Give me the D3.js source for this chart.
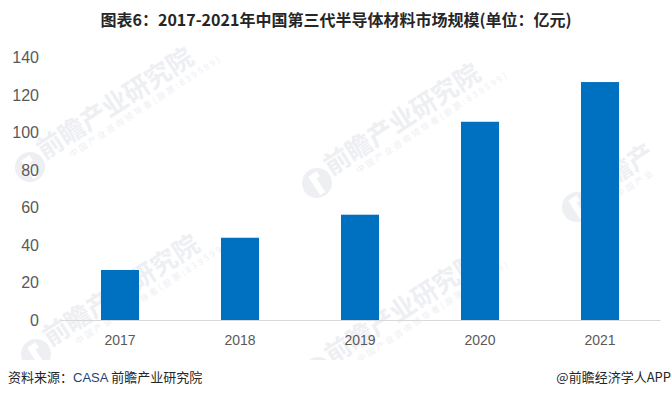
<!DOCTYPE html>
<html>
<head>
<meta charset="utf-8">
<script src="https://cdn.jsdelivr.net/npm/d3@7"></script>
<style>
  html, body { margin: 0; padding: 0; background: #fff; }
  svg { display: block; }
</style>
</head>
<body>
<svg width="672" height="397"></svg>
<script>
// data
var years = ['2017', '2018', '2019', '2020', '2021']
var marketSize = [26.7, 43.9, 56.2, 105.8, 127.0]
var yTicks = [0, 20, 40, 60, 80, 100, 120, 140]

var title = '图表6：2017-2021年中国第三代半导体材料市场规模(单位：亿元)'
// faint watermarks: logo centre, main text, sub text (the last one runs off the right edge)
var wmSpots = [[30, 167], [36, 354], [317, 183], [318, 372], [577, 207]]
var wmMain = ['前瞻产业研究院', '前瞻产业研究院', '前瞻产业研究院', '前瞻产业研究院', '前瞻产']
var wmSub = ['中国产业咨询领导者(股票:839599)', '中国产业咨询领导者(股票:839599)',
  '中国产业咨询领导者(股票:839599)', '中国产业咨询领导者(股票:839599)', '中国产业']

var svg = d3.select('svg')
var cjk = '"Noto Sans CJK SC", "Microsoft YaHei", sans-serif'
var latin = '"Liberation Sans", Arial, sans-serif'

var x = d3.scaleBand().domain(years).range([60, 660]).paddingInner(0.683).paddingOuter(0.3415)
var y = d3.scaleLinear().domain([0, 140]).range([320, 57.7])

// watermarks
svg.append('clipPath').attr('id', 'wmclip')
  .append('rect').attr('x', 0).attr('y', 40).attr('width', 672).attr('height', 320)

var wm = svg.append('g').attr('clip-path', 'url(#wmclip)')
  .selectAll('g').data(wmSpots).enter().append('g')
  .attr('transform', function (d) { return 'translate(' + d[0] + ',' + d[1] + ') rotate(-33)' })
  .attr('opacity', 0.6)

wm.append('circle').attr('r', 15).attr('fill', '#e3e6ec')
wm.append('path')
  .attr('d', 'M-4,-10 L6,-10 L6,-4 L2,-4 L2,12 L-4,12 Z')
  .attr('fill', '#fff')
wm.append('text')
  .attr('x', 16).attr('y', 2)
  .attr('font-family', cjk).attr('font-weight', 'bold')
  .attr('font-size', 26).attr('fill', '#e3e6ec')
  .attr('textLength', function (d, i) { return 180 * wmMain[i].length / 7 })
  .attr('lengthAdjust', 'spacingAndGlyphs')
  .text(function (d, i) { return wmMain[i] })
wm.append('text')
  .attr('x', 40).attr('y', 15)
  .attr('font-family', cjk).attr('font-size', 8.5).attr('fill', '#e3e6ec')
  .attr('letter-spacing', 2.5)
  .text(function (d, i) { return wmSub[i] })

// title
svg.append('text')
  .attr('x', 336).attr('y', 26)
  .attr('text-anchor', 'middle')
  .attr('font-family', cjk).attr('font-weight', 'bold')
  .attr('font-size', 16).attr('fill', '#262626')
  .text(title)

// y axis
var yAxis = svg.append('g')
  .attr('transform', 'translate(60,0)')
  .call(d3.axisLeft(y).tickValues(yTicks).tickSize(0).tickPadding(21))
yAxis.select('.domain').remove()
yAxis.selectAll('text')
  .attr('font-family', latin).attr('font-size', 16).attr('fill', '#595959')

// bars
svg.append('g').selectAll('rect')
  .data(marketSize).enter().append('rect')
  .attr('x', function (d, i) { return x(years[i]) })
  .attr('width', x.bandwidth())
  .attr('y', function (d) { return y(d) })
  .attr('height', function (d) { return y(0) - y(d) })
  .attr('fill', '#0070c0')

// x axis
var xAxis = svg.append('g')
  .attr('transform', 'translate(0,320)')
  .call(d3.axisBottom(x).tickSize(0).tickPadding(15))
xAxis.select('.domain').attr('stroke', '#d9d9d9').attr('stroke-width', 1.2)
xAxis.selectAll('text')
  .attr('font-family', latin).attr('font-size', 14).attr('fill', '#595959')

// footer
var foot = svg.append('text')
  .attr('x', 8).attr('y', 382)
  .attr('font-family', cjk).attr('font-size', 13).attr('fill', '#262626')
foot.append('tspan').text('资料来源：')
foot.append('tspan').attr('fill', '#1f3f77').attr('font-family', latin).text('CASA')
foot.append('tspan').text(' 前瞻产业研究院')

svg.append('text')
  .attr('x', 671).attr('y', 382)
  .attr('text-anchor', 'end')
  .attr('font-family', cjk).attr('font-size', 13).attr('fill', '#262626')
  .text('@前瞻经济学人APP')
</script>
</body>
</html>
